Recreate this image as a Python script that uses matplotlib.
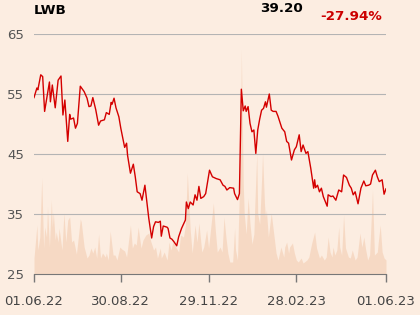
import numpy as np
import matplotlib
matplotlib.use("Agg")
import matplotlib.pyplot as plt
import matplotlib.dates as mdates

# Kurs LWB, Tage ab 01.06.22
price_days = [0, 3, 4, 7, 9, 11, 16, 17, 19, 22, 25, 28, 30, 32, 35, 37, 38, 41, 43, 45,
              48, 52, 55, 57, 59, 61, 64, 67, 69, 73, 75, 78, 80, 81, 83, 85, 88, 90, 94, 96,
              97, 100, 103, 105, 107, 110, 112, 115, 119, 122, 124, 126, 129, 131, 132, 134, 138, 139, 141, 143,
              145, 148, 150, 153, 157, 158, 160, 162, 165, 167, 169, 171, 173, 176, 178, 182, 185, 189, 193, 196,
              198, 200, 203, 207, 208, 211, 213, 215, 217, 219, 220, 222, 224, 226, 228, 230, 232, 234, 236, 238,
              240, 241, 244, 246, 248, 251, 253, 257, 260, 262, 264, 267, 270, 272, 275, 277, 279, 282, 284, 287,
              290, 291, 292, 294, 296, 298, 300, 304, 305, 308, 310, 313, 316, 319, 321, 324, 327, 329, 331, 333,
              336, 339, 342, 344, 347, 349, 351, 354, 356, 358, 361, 363, 365]
prices = [54.4, 56.0, 55.7, 58.2, 57.9, 52.1, 57.0, 53.7, 56.5, 52.7, 57.3, 58.0, 51.5, 54.0, 47.1, 51.6, 50.8, 51.0, 49.3, 50.1,
          56.3, 55.4, 54.3, 52.9, 53.0, 54.4, 52.4, 49.8, 50.5, 50.7, 51.9, 51.6, 53.6, 53.3, 54.3, 52.7, 51.2, 49.3, 46.1, 46.8,
          44.8, 41.8, 43.3, 41.2, 38.7, 38.4, 37.3, 39.8, 34.3, 31.0, 32.9, 33.7, 33.6, 33.8, 31.3, 33.0, 32.8, 32.6, 31.0, 30.8,
          30.4, 29.7, 31.2, 32.6, 34.0, 37.0, 35.9, 37.0, 36.5, 38.2, 37.3, 39.6, 37.6, 37.9, 38.4, 42.3, 41.2, 40.9, 40.7, 39.8,
          39.6, 39.0, 39.4, 39.3, 38.4, 37.4, 38.4, 55.8, 52.2, 53.0, 52.1, 52.9, 50.1, 48.7, 49.0, 45.1, 49.0, 50.8, 52.3, 52.6,
          53.7, 52.8, 55.0, 52.3, 52.1, 52.1, 51.3, 49.3, 48.7, 47.1, 46.8, 44.0, 45.7, 46.2, 48.2, 45.4, 46.5, 45.1, 45.4, 42.6,
          39.3, 40.7, 39.4, 39.8, 38.7, 39.3, 37.9, 36.3, 38.2, 37.9, 38.0, 37.3, 39.0, 38.7, 41.5, 41.1, 39.8, 39.3, 38.2, 38.7,
          36.7, 39.3, 40.5, 39.7, 39.8, 40.0, 41.5, 42.3, 41.2, 40.4, 40.7, 38.3, 39.20]

# Umsatz (Tsd. Stueck, geschaetzt)
vol_days = [0, 3, 4, 6, 8, 10, 11, 13, 14, 16, 18, 19, 20, 22, 23, 25, 26, 29, 31, 33,
            35, 37, 39, 41, 44, 48, 49, 52, 55, 57, 59, 61, 63, 65, 67, 69, 71, 74, 75, 77,
            79, 82, 84, 86, 89, 91, 94, 96, 100, 102, 104, 106, 108, 111, 113, 116, 119, 121, 124, 126,
            128, 131, 132, 135, 138, 140, 142, 144, 147, 150, 152, 155, 157, 159, 162, 164, 167, 169, 171, 174,
            176, 179, 181, 186, 188, 190, 193, 195, 197, 199, 201, 203, 206, 208, 209, 211, 214, 215, 217, 218,
            220, 222, 224, 226, 228, 229, 231, 232, 234, 236, 237, 239, 240, 241, 243, 246, 249, 251, 253, 256,
            259, 260, 262, 264, 265, 268, 270, 272, 274, 277, 279, 283, 285, 288, 291, 293, 296, 298, 301, 303,
            305, 307, 309, 310, 312, 314, 316, 317, 319, 321, 323, 326, 328, 330, 333, 335, 338, 340, 342, 344,
            346, 348, 351, 353, 356, 357, 359, 361, 363, 365]
volume = [16, 49, 24, 37, 96, 26, 47, 37, 67, 27, 74, 47, 62, 34, 42, 32, 46, 24, 61, 32,
          54, 57, 32, 34, 20, 55, 52, 27, 16, 19, 26, 21, 27, 16, 40, 16, 21, 17, 21, 14,
          43, 19, 19, 14, 27, 25, 23, 17, 49, 26, 31, 29, 47, 26, 34, 39, 41, 33, 24, 27,
          16, 26, 16, 22, 14, 32, 24, 32, 27, 22, 39, 37, 49, 101, 44, 21, 49, 32, 51, 22,
          27, 44, 26, 71, 44, 22, 27, 22, 57, 37, 21, 12, 12, 46, 24, 14, 120, 225, 90, 60,
          40, 76, 50, 30, 40, 70, 121, 60, 50, 95, 121, 70, 57, 64, 37, 61, 37, 21, 14, 27,
          17, 27, 32, 21, 27, 31, 21, 14, 12, 16, 11, 14, 17, 31, 42, 26, 16, 19, 14, 17,
          37, 22, 17, 27, 19, 24, 47, 27, 19, 59, 26, 17, 16, 24, 14, 17, 41, 27, 37, 24,
          14, 19, 84, 19, 22, 32, 49, 22, 16, 14]

tick_dates = ["2022-06-01", "2022-08-30", "2022-11-29", "2023-02-28", "2023-06-01"]
y_ticks = [25, 35, 45, 55, 65]

bg = "#fcede1"
start = np.datetime64("2022-06-01")
px = start + np.array(price_days).astype("timedelta64[D]")
vx = start + np.array(vol_days).astype("timedelta64[D]")

fig = plt.figure(figsize=(4.2, 3.15), dpi=100, facecolor=bg)
ax = fig.add_axes([34/420, 1 - 274/315, 352/420, 240/315])
ax.set_facecolor(bg)

# Umsatz im Hintergrund
ax.fill_between(vx, 0, volume, color="#f6d6bf", alpha=0.85, lw=0)
ax.set_ylim(0, 240)
ax.set_yticks([])

# Kurs darueber
axp = ax.twinx()
axp.plot(px, prices, color="#d40000", lw=1.0)
axp.set_ylim(25, 65)
axp.set_yticks(y_ticks)
axp.yaxis.tick_left()
axp.tick_params(axis="y", length=0, pad=7, labelsize=9.5, labelcolor="#555555")
for v in y_ticks[1:]:
    axp.axhline(v, color="#b4b4b4", lw=0.8, zorder=0)

ax.set_xlim(start, np.datetime64("2023-06-01"))
ax.set_xticks([np.datetime64(d) for d in tick_dates])
ax.xaxis.set_major_formatter(mdates.DateFormatter("%d.%m.%y"))
ax.tick_params(axis="x", length=6, width=1, color="#777777", labelsize=9.5,
               labelcolor="#444444", pad=9)

for a in (ax, axp):
    for s in ("top", "right", "left"):
        a.spines[s].set_visible(False)
    a.spines["bottom"].set_visible(False)
ax.spines["bottom"].set_visible(True)
ax.spines["bottom"].set_color("#777777")

fig.text(34/420, 1 - 10/315, "LWB", fontsize=9.7, fontweight="bold", va="center", ha="left")
fig.text(260/420, 1 - 9/315, "39.20", fontsize=9.7, fontweight="bold", va="center", ha="left")
fig.text(320/420, 1 - 17/315, "-27.94%", fontsize=9.7, fontweight="bold", va="center", ha="left",
         color="#cc0000")

fig.savefig("out.png", dpi=100, facecolor=bg)
